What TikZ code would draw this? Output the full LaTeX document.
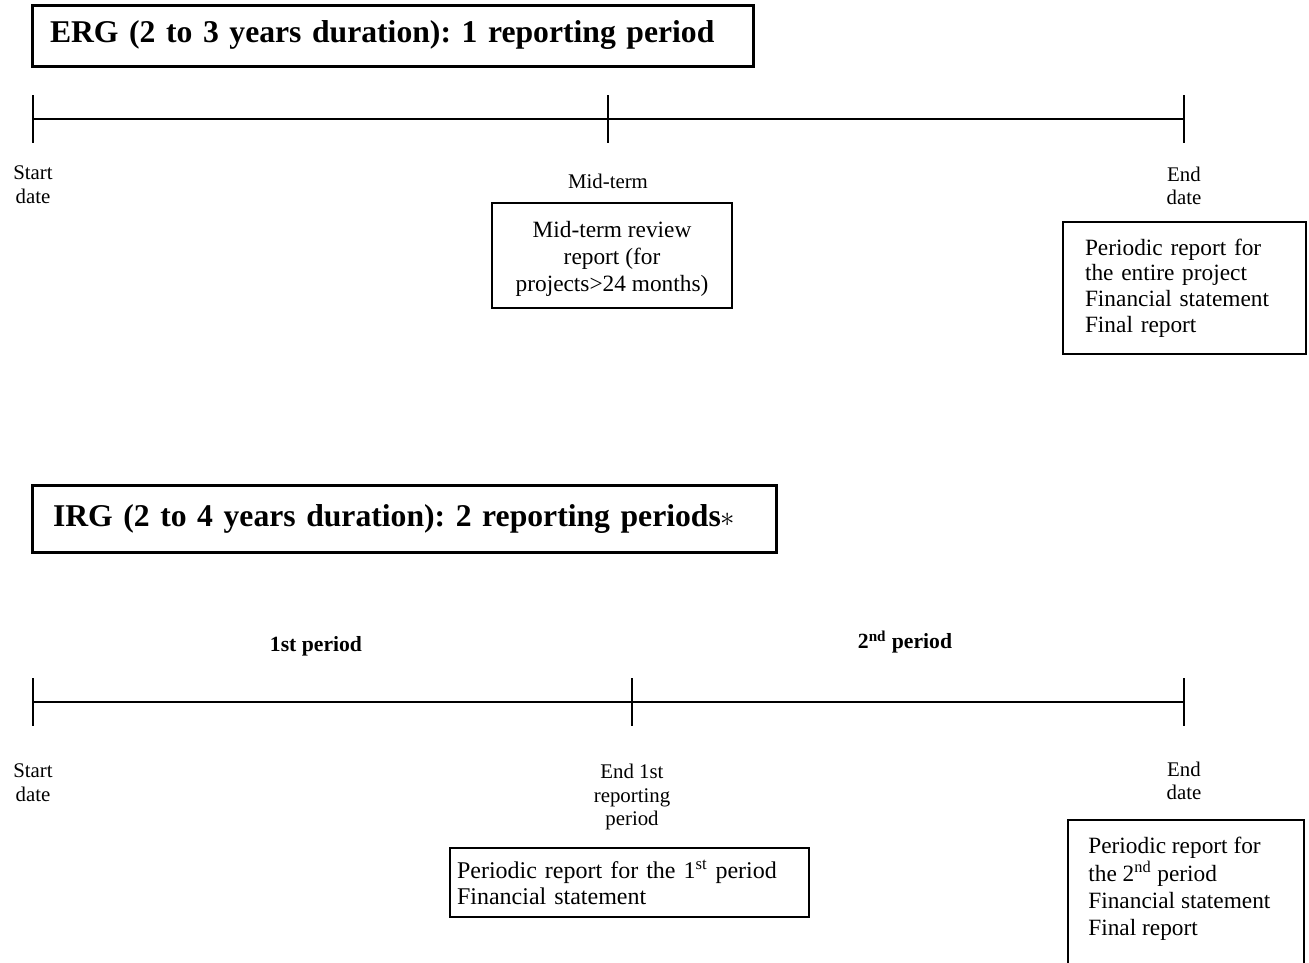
\documentclass[tikz,border=0pt]{standalone}
\usepackage{fontspec}
\setmainfont{Liberation Serif}
\frenchspacing
\begin{document}
\begin{tikzpicture}[x=0.6pt,y=-0.6pt,
  titlebox/.style={draw, line width=1.8pt, inner ysep=0pt, align=left,
    font=\fontsize{19}{22}\selectfont\bfseries},
  repbox/.style={draw, line width=0.9pt, inner ysep=0pt,
    font=\fontsize{14}{15.8}\selectfont},
  rtext/.style={inner sep=0pt, font=\fontsize{14}{15.8}\selectfont},
  lbl/.style={inner sep=0pt, align=center, font=\fontsize{12.5}{14.2}\selectfont},
  plbl/.style={inner sep=0pt, font=\fontsize{13}{14.2}\selectfont\bfseries},
  tline/.style={line width=1.1pt},
  tick/.style={line width=1.1pt}]
\useasboundingbox (0,0) rectangle (1309,962);

% ---------- ERG ----------
\node[titlebox, minimum width=432.6pt, minimum height=36.6pt, inner xsep=10.8pt,
  text width=411pt] (t1) at (392.5,35.5) {ERG (2 to 3 years duration): 1 reporting period};

\coordinate (a1) at (33,119);
\coordinate (a2) at (608,119);
\coordinate (a3) at (1184,119);
\draw[tline] (a1) -- (a2) -- (a3);
\foreach \p in {a1,a2,a3} \draw[tick] ([yshift=14.4pt]\p) -- ([yshift=-14.4pt]\p);

\node[lbl] (s1) at (33,185) {Start\\date};
\node[lbl] (m1) at (608,181) {Mid-term};
\node[lbl] (e1) at (1184,186) {End\\date};

\node[repbox, minimum width=144pt, minimum height=63pt] (mb1) at (612,255.5) {};
\node[rtext, align=center, font=\fontsize{14}{16.2}\selectfont] (mb1t) at (612,258.5)
  {Mid-term review\\report (for\\projects\textgreater24 months)};

\node[repbox, minimum width=145.8pt, minimum height=79.2pt, inner xsep=13.2pt,
  text width=119.4pt, align=left, font=\fontsize{14}{15.4}\selectfont] (rb1) at (1184.5,288)
  {Periodic report for\\the entire project\\Financial statement\\Final report};

% ---------- IRG ----------
\node[titlebox, minimum width=446.4pt, minimum height=40.2pt, inner xsep=12.6pt,
  text width=421.2pt] (t2) at (404,518.5)
  {IRG (2 to 4 years duration): 2 reporting periods\raisebox{-0.05ex}{$\ast$}};

\node[plbl] (p1) at (316,646) {1st period};
\node[plbl] (p2) at (905,642) {2\textsuperscript{nd} period};

\coordinate (b1) at (33,702);
\coordinate (b2) at (632,702);
\coordinate (b3) at (1184,702);
\draw[tline] (b1) -- (b2) -- (b3);
\foreach \p in {b1,b2,b3} \draw[tick] ([yshift=14.4pt]\p) -- ([yshift=-14.4pt]\p);

\node[lbl] (s2) at (33,783) {Start\\date};
\node[lbl] (e2a) at (632,797) {End 1st\\reporting\\period};
\node[lbl] (e2) at (1184,781) {End\\date};

\node[repbox, minimum width=215.4pt, minimum height=41.4pt, inner xsep=4.2pt,
  text width=207pt, align=left, font=\fontsize{14.4}{15.8}\selectfont] (mb2) at (629.5,882.5)
  {Periodic report for the 1\textsuperscript{st} period\\Financial statement};

\node[draw, line width=0.9pt, minimum width=141.6pt, minimum height=102pt] (rb2) at (1186,905) {};
\node[rtext, align=left, anchor=north west, font=\fontsize{14}{16.4}\selectfont] (rb2t) at (1088,837)
  {Periodic report for\\the 2\textsuperscript{nd} period\\Financial statement\\Final report};
\end{tikzpicture}
\end{document}
